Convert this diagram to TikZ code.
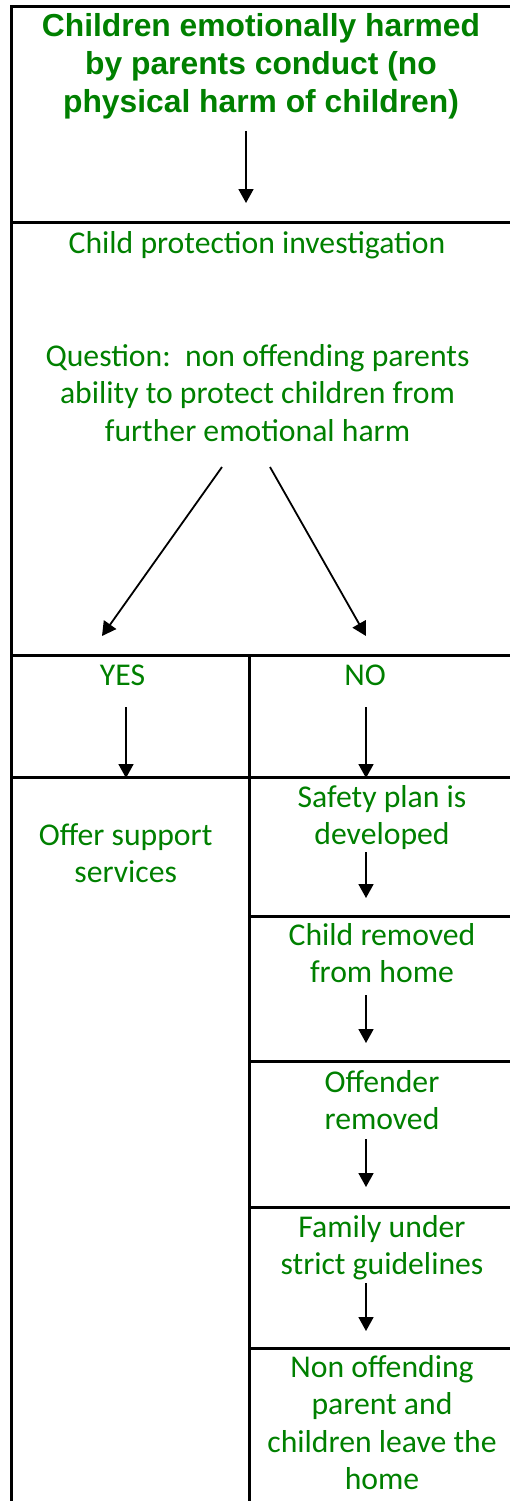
\documentclass[tikz,border=0pt]{standalone}
\usepackage{fontspec}
\setmainfont{Carlito}
\newfontfamily\titlefont{Liberation Sans}
\usetikzlibrary{arrows.meta}
\definecolor{txtgreen}{RGB}{0,128,0}
\begin{document}
\begin{tikzpicture}[x=1pt,y=-1pt,
  rule/.style={line width=3pt},
  arr/.style={line width=1.8pt,-{Triangle[length=14pt,width=15pt]}},
  lbl/.style={inner sep=0pt,anchor=base,align=flush center,text width=#1,text=txtgreen,
    font=\fontsize{31.7}{37.5}\selectfont},
  lbl/.default=250pt,
  ttl/.style={inner sep=0pt,anchor=base,align=flush center,text width=490pt,text=txtgreen,
    font=\titlefont\bfseries\fontsize{31.8}{38}\selectfont}]
\useasboundingbox (0,0) rectangle (510,1501);
% table rules
\draw[rule] (10,7) -- (510,7);
\draw[rule] (11.3,5.5) -- (11.3,1501);
\draw[rule] (11,222) -- (510,222);
\draw[rule] (11,655) -- (510,655);
\draw[rule] (11,777) -- (510,777);
\draw[rule] (249,655) -- (249,1501);
\draw[rule] (249,916) -- (510,916);
\draw[rule] (249,1061) -- (510,1061);
\draw[rule] (249,1207) -- (510,1207);
\draw[rule] (249,1348) -- (510,1348);
% texts
\node[ttl] (title) at (261,37) {Children emotionally harmed\\by parents conduct (no\\physical harm of children)};
\node[lbl=480pt] (inv) at (257,253) {Child protection investigation};
\node[lbl=480pt] (quest) at (257.5,366) {Question:\ \ non offending parents\\ability to protect children from\\further emotional harm};
\node[lbl=200pt] (yes) at (122.5,685) {YES};
\node[lbl=200pt] (no) at (365,685) {NO};
\node[lbl=230pt] (offer) at (125.7,845) {Offer support\\services};
\node[lbl] (safety) at (382,807) {Safety plan is\\developed};
\node[lbl] (removed) at (382,945) {Child removed\\from home};
\node[lbl] (offender) at (382,1092) {Offender\\removed};
\node[lbl] (family) at (382,1237) {Family under\\strict guidelines};
\node[lbl] (leave) at (382,1377) {Non offending\\parent and\\children leave the\\home};
% arrow end points
\coordinate (t0) at (246,131);  \coordinate (t1) at (246,203);
\coordinate (qL) at (222,467);  \coordinate (qLe) at (102,636);
\coordinate (qR) at (270,467);  \coordinate (qRe) at (366,636);
\coordinate (y0) at (126,707);  \coordinate (y1) at (126,778);
\coordinate (n0) at (366,707);  \coordinate (n1) at (366,778);
\coordinate (s0) at (366,852);  \coordinate (s1) at (366,898);
\coordinate (r0) at (366,995);  \coordinate (r1) at (366,1043);
\coordinate (o0) at (366,1139); \coordinate (o1) at (366,1187);
\coordinate (f0) at (366,1283); \coordinate (f1) at (366,1331);
\draw[arr] (t0) -- (t1);
\draw[arr] (qL) -- (qLe);
\draw[arr] (qR) -- (qRe);
\draw[arr] (y0) -- (y1);
\draw[arr] (n0) -- (n1);
\draw[arr] (s0) -- (s1);
\draw[arr] (r0) -- (r1);
\draw[arr] (o0) -- (o1);
\draw[arr] (f0) -- (f1);
\end{tikzpicture}
\end{document}
